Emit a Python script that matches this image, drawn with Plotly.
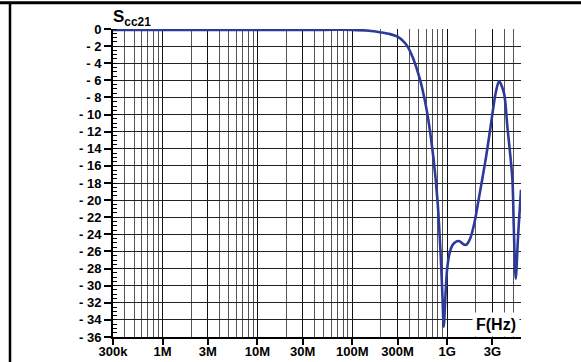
import math
import plotly.graph_objects as go

# Frequency response of Scc21 (dB) versus frequency (Hz)
freq_hz = [3e5, 1e6, 1e7, 5e7, 1e8, 1.5e8, 2e8, 2.5e8, 3e8, 3.5e8, 3.8e8,
           4.4e8, 5.2e8, 5.6e8, 6.2e8, 7.2e8, 7.9e8, 8.5e8, 8.9e8, 9.2e8,
           9.6e8, 1.0e9, 1.06e9, 1.13e9, 1.22e9, 1.35e9, 1.5e9, 1.6e9,
           1.76e9, 1.95e9, 2.14e9, 2.54e9, 2.87e9, 3.24e9, 3.52e9, 3.97e9,
           4.31e9, 4.87e9, 5.03e9, 5.28e9, 5.6e9, 6.0e9]
scc21_db = [-0.1, -0.1, -0.1, -0.1, -0.1, -0.2, -0.4, -0.6, -0.9, -1.5, -2.0,
            -3.5, -6.0, -7.5, -10.0, -15.3, -20.0, -26.0, -31.0, -34.8,
            -31.0, -28.0, -26.2, -25.3, -24.9, -24.8, -25.2, -25.2,
            -24.4, -22.5, -20.0, -15.3, -11.4, -7.5, -6.1, -7.5,
            -11.4, -17.6, -23.0, -29.2, -24.0, -18.8]

# Axis ticks
x_tick_vals = [3e5, 1e6, 3e6, 1e7, 3e7, 1e8, 3e8, 1e9, 3e9]
x_tick_text = ["300k", "1M", "3M", "10M", "30M", "100M", "300M", "1G", "3G"]
y_tick_vals = list(range(0, -37, -2))
y_tick_text = ["0"] + ["- %d" % (-v) for v in y_tick_vals[1:]]

# Minor vertical grid: remaining multiples 2..9 in each decade, up to 6G
x_minor_vals = []
for dec in range(5, 10):
    for m in range(2, 10):
        f = m * 10 ** dec
        if 3e5 <= f <= 6e9 and f not in x_tick_vals:
            x_minor_vals.append(f)

W, H = 581, 362
ML, MR, MT, MB = 113, 60, 29, 25
FONT = "Liberation Sans, Arial, Helvetica, sans-serif"

fig = go.Figure()
fig.add_trace(go.Scatter(
    x=freq_hz, y=scc21_db, mode="lines",
    line=dict(color="#2D3A9A", width=2.6, shape="spline", smoothing=0.8),
    cliponaxis=False, showlegend=False, hoverinfo="skip",
))

fig.update_xaxes(
    type="log", range=[math.log10(3e5), math.log10(6e9)],
    tickvals=x_tick_vals, ticktext=x_tick_text,
    ticks="outside", ticklen=6, tickwidth=2, tickcolor="black",
    ticklabelstandoff=-5,
    tickfont=dict(family=FONT, size=13, color="black", weight="bold"),
    showgrid=True, gridcolor="#111", gridwidth=1,
    showline=True, linecolor="black", linewidth=2,
    zeroline=False, automargin=False,
    minor=dict(tickvals=x_minor_vals, showgrid=True, gridcolor="#555",
               gridwidth=1, ticks=""),
)
fig.update_yaxes(
    range=[-36, 0],
    tickvals=y_tick_vals, ticktext=y_tick_text,
    ticks="outside", ticklen=7, tickwidth=2, tickcolor="black",
    tickfont=dict(family=FONT, size=13, color="black", weight="bold"),
    showgrid=True, gridcolor="#222", gridwidth=1,
    showline=True, linecolor="black", linewidth=2,
    zeroline=False, automargin=False,
    minor=dict(dtick=0.5, ticks="inside", ticklen=4, tickwidth=1,
               tickcolor="black", showgrid=False),
)

pw = W - ML - MR
ph = H - MT - MB


def px_to_paper_x(px):
    return (px - ML) / pw


def px_to_paper_y(py):
    return (H - MB - py) / ph


# Frame lines along the top and left of the page
fig.add_shape(type="line", xref="paper", yref="paper",
              x0=px_to_paper_x(0), x1=px_to_paper_x(W),
              y0=px_to_paper_y(2.8), y1=px_to_paper_y(2.8),
              line=dict(color="black", width=3))
fig.add_shape(type="line", xref="paper", yref="paper",
              x0=px_to_paper_x(10), x1=px_to_paper_x(10),
              y0=px_to_paper_y(2.8), y1=px_to_paper_y(H + 2),
              line=dict(color="black", width=2.5))

# Title and axis label
fig.add_annotation(
    text="S<sub>cc21</sub>", xref="paper", yref="paper",
    x=px_to_paper_x(111), y=px_to_paper_y(18), xanchor="left", yanchor="middle",
    showarrow=False, font=dict(family=FONT, size=17, color="black", weight="bold"),
)
fig.add_annotation(
    text="F(Hz)", xref="paper", yref="paper",
    x=px_to_paper_x(496), y=px_to_paper_y(324), xanchor="center", yanchor="middle",
    showarrow=False, bgcolor="white", borderpad=3,
    font=dict(family=FONT, size=16, color="black", weight="bold"),
)

fig.update_layout(
    width=W, height=H,
    margin=dict(l=ML, r=MR, t=MT, b=MB, pad=0, autoexpand=False),
    paper_bgcolor="white", plot_bgcolor="white",
)

fig.write_html("out.html")
